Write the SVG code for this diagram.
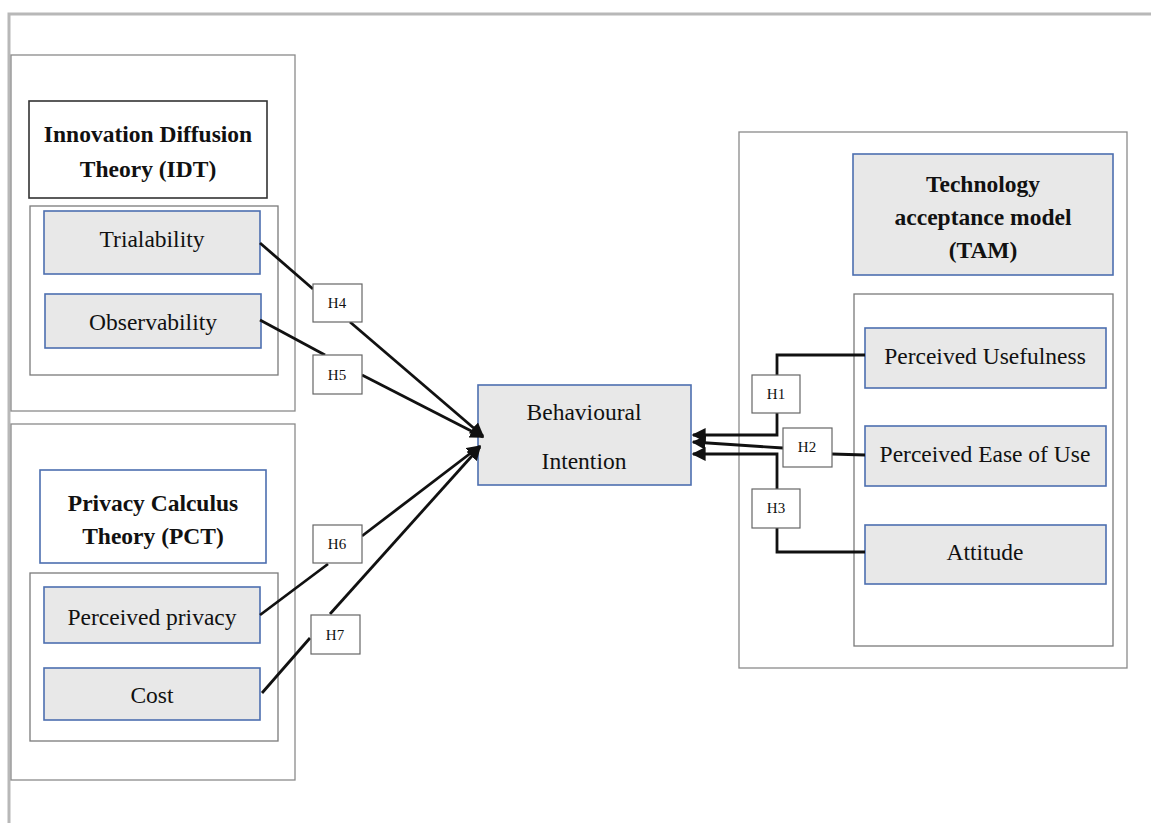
<svg xmlns="http://www.w3.org/2000/svg" width="1151" height="823" viewBox="0 0 1151 823">
<style>
.frame{fill:none;stroke:#b8b8b8;stroke-width:3}
.outer{fill:#fff;stroke:#8a8a8a;stroke-width:1.3}
.group{fill:#fff;stroke:#7a7a7a;stroke-width:1.3}
.node{fill:#e8e8e8;stroke:#4d6fb0;stroke-width:1.6}
.title{fill:#fff;stroke:#4d6fb0;stroke-width:1.6}
.titledark{fill:#fff;stroke:#333;stroke-width:1.6}
.hbox{fill:#fff;stroke:#666;stroke-width:1.2}
.t{font-family:"Liberation Serif","Times New Roman",serif;font-size:23.5px;fill:#111;text-anchor:middle}
.b{font-weight:bold}
.h{font-family:"Liberation Serif","Times New Roman",serif;font-size:15px;fill:#111;text-anchor:middle}
.c{fill:none;stroke:#111;stroke-width:2.8}
</style>
<defs>
<marker id="arr" viewBox="0 0 10 10" refX="9" refY="5" markerWidth="5" markerHeight="5" orient="auto" markerUnits="strokeWidth">
<path d="M0,0 L10,5 L0,10 z" fill="#111"/>
</marker>
</defs>
<rect width="1151" height="823" fill="#fff"/>
<path class="frame" d="M9,823 V14 H1151"/>

<g id="idt">
<rect class="outer" x="11" y="55" width="284" height="356"/>
<rect class="titledark" x="29" y="101" width="238" height="97"/>
<text class="t b" x="148" y="142">Innovation Diffusion</text>
<text class="t b" x="148" y="177">Theory (IDT)</text>
<rect class="group" x="30" y="206" width="248" height="169"/>
</g>
<g id="trialability">
<rect class="node" x="44" y="211" width="216" height="63"/>
<text class="t" x="152" y="247">Trialability</text>
</g>
<g id="observability">
<rect class="node" x="45" y="294" width="216" height="54"/>
<text class="t" x="153" y="330">Observability</text>
</g>

<g id="pct">
<rect class="outer" x="11" y="424" width="284" height="356"/>
<rect class="title" x="40" y="470" width="226" height="93"/>
<text class="t b" x="153" y="511">Privacy Calculus</text>
<text class="t b" x="153" y="544">Theory (PCT)</text>
<rect class="group" x="30" y="573" width="248" height="168"/>
</g>
<g id="perceived-privacy">
<rect class="node" x="44" y="587" width="216" height="56"/>
<text class="t" x="152" y="625">Perceived privacy</text>
</g>
<g id="cost">
<rect class="node" x="44" y="668" width="216" height="52"/>
<text class="t" x="152" y="703">Cost</text>
</g>

<g id="behavioural-intention">
<rect class="node" x="478" y="385" width="213" height="100"/>
<text class="t" x="584" y="420">Behavioural</text>
<text class="t" x="584" y="469">Intention</text>
</g>

<g id="tam">
<rect class="outer" x="739" y="132" width="388" height="536"/>
<rect class="node" x="853" y="154" width="260" height="121"/>
<text class="t b" x="983" y="192">Technology</text>
<text class="t b" x="983" y="225">acceptance model</text>
<text class="t b" x="983" y="258">(TAM)</text>
<rect class="group" x="854" y="294" width="259" height="352"/>
</g>
<g id="perceived-usefulness">
<rect class="node" x="865" y="328" width="241" height="60"/>
<text class="t" x="985" y="364">Perceived Usefulness</text>
</g>
<g id="perceived-ease-of-use">
<rect class="node" x="865" y="426" width="241" height="60"/>
<text class="t" x="985" y="462">Perceived Ease of Use</text>
</g>
<g id="attitude">
<rect class="node" x="865" y="525" width="241" height="59"/>
<text class="t" x="985" y="560">Attitude</text>
</g>

<g id="connectors">
<line class="c" x1="260" y1="243" x2="313" y2="289"/>
<line class="c" x1="350" y1="322" x2="483" y2="436" marker-end="url(#arr)"/>
<line class="c" x1="260" y1="320" x2="325" y2="355"/>
<line class="c" x1="362" y1="375" x2="483" y2="437" marker-end="url(#arr)"/>
<line class="c" x1="260" y1="615" x2="328" y2="564"/>
<line class="c" x1="362" y1="536" x2="480" y2="446" marker-end="url(#arr)"/>
<line class="c" x1="262" y1="693" x2="310" y2="638"/>
<line class="c" x1="330" y1="614" x2="480" y2="447" marker-end="url(#arr)"/>
<polyline class="c" points="865,355 777,355 777,375"/>
<polyline class="c" points="777,413 777,435 693,435" marker-end="url(#arr)"/>
<line class="c" x1="832" y1="454" x2="865" y2="455"/>
<line class="c" x1="783" y1="448" x2="693" y2="442" marker-end="url(#arr)"/>
<polyline class="c" points="865,552 777,552 777,528"/>
<polyline class="c" points="777,489 777,454 693,454" marker-end="url(#arr)"/>
</g>

<g id="h4"><rect class="hbox" x="313" y="284" width="49" height="38"/><text class="h" x="337" y="308">H4</text></g>
<g id="h5"><rect class="hbox" x="313" y="355" width="49" height="39"/><text class="h" x="337" y="380">H5</text></g>
<g id="h6"><rect class="hbox" x="313" y="525" width="49" height="38"/><text class="h" x="337" y="549">H6</text></g>
<g id="h7"><rect class="hbox" x="311" y="615" width="49" height="39"/><text class="h" x="335" y="640">H7</text></g>
<g id="h1"><rect class="hbox" x="752" y="375" width="48" height="38"/><text class="h" x="776" y="399">H1</text></g>
<g id="h2"><rect class="hbox" x="783" y="428" width="49" height="39"/><text class="h" x="807" y="452">H2</text></g>
<g id="h3"><rect class="hbox" x="752" y="489" width="48" height="39"/><text class="h" x="776" y="513">H3</text></g>
</svg>
